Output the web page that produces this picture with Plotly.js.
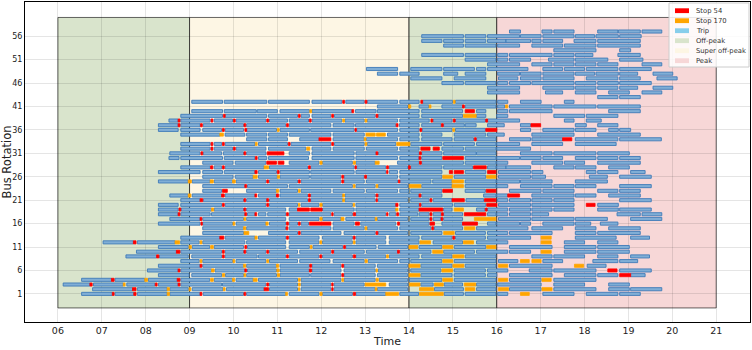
<!DOCTYPE html>
<html>
<head>
<meta charset="utf-8">
<script src="https://cdn.plot.ly/plotly-3.0.1.min.js"></script>
<style>html,body{margin:0;padding:0;background:#fff;}#chart{width:752px;height:350px;}</style>
</head>
<body>
<div id="chart"></div>
<script>
// ---------------- DATA ----------------
// Trips per bus rotation (index 0 = rotation 1), each [start hour, end hour]
const trips = [
/*1*/ [[6.54,7.24],[7.30,7.73],[7.81,8.49],[8.55,9.24],[9.31,10.23],[10.30,11.19],[11.27,11.95],[12.03,12.71],[12.79,13.47],[13.79,14.22],[14.80,15.24],[15.28,15.98],[16.02,16.25],[17.05,17.76],[18.04,18.76],[18.80,19.27]],
/*2*/ [[6.79,7.70],[7.81,8.49],[8.55,8.97],[9.06,9.76],[9.84,10.70],[10.82,11.46],[11.54,12.22],[12.29,13.23],[13.28,13.97],[14.58,15.24],[15.54,15.98],[16.29,17.01],[17.30,18.26],[18.55,19.02],[19.05,19.76]],
/*3*/ [[6.12,6.73],[6.81,7.49],[7.57,8.21],[8.29,8.74],[8.80,9.73],[9.75,10.74],[10.82,11.46],[11.54,12.22],[12.29,12.98],[13.55,13.97],[14.27,14.55],[14.80,15.22],[15.54,15.98],[16.02,17.01],[17.30,18.00],[18.55,19.02]],
/*4*/ [[6.54,7.22],[7.30,7.98],[8.06,8.72],[8.80,9.46],[9.56,9.98],[10.06,10.45],[10.57,11.46],[11.54,12.45],[12.52,13.23],[13.32,13.97],[14.01,14.75],[15.03,15.98],[16.29,17.01],[17.30,18.26]],
/*5*/ [[8.29,8.99],[9.05,9.73],[9.82,10.23],[10.30,10.98],[11.06,11.73],[11.76,12.45],[12.52,13.23],[13.28,13.97],[14.27,14.98],[15.03,15.74],[15.79,16.00],[16.29,17.26],[17.54,18.26],[18.30,18.76],[19.05,19.38]],
/*6*/ [[8.04,8.74],[8.80,9.50],[9.58,10.26],[10.32,10.98],[11.06,11.73],[11.79,12.45],[12.52,13.23],[13.30,13.97],[14.04,14.73],[15.03,15.74],[15.79,16.25],[16.74,17.26],[17.30,18.26],[18.80,19.52]],
/*7*/ [[8.29,9.24],[9.30,10.23],[10.30,10.98],[11.06,11.73],[11.79,12.45],[12.52,13.23],[13.28,13.97],[14.27,14.98],[15.28,15.98],[16.29,17.26],[18.06,18.49]],
/*8*/ [[8.80,9.22],[9.30,9.98],[10.06,10.74],[10.82,11.46],[11.51,12.20],[12.27,12.98],[13.07,13.74],[13.79,14.00],[14.04,14.75],[15.03,15.98],[16.04,16.48],[17.05,17.50],[18.19,18.76],[18.80,19.21]],
/*9*/ [[7.55,8.25],[8.31,8.97],[9.05,9.73],[9.81,10.54],[10.57,11.19],[11.27,11.95],[12.03,12.71],[12.79,13.47],[13.55,14.23],[14.29,14.98],[15.28,15.98],[16.80,17.26],[17.30,18.00],[18.30,18.76],[19.05,19.48]],
/*10*/ [[7.79,8.70],[8.80,9.73],[9.81,10.23],[10.30,10.74],[10.82,11.46],[11.51,12.22],[12.29,12.98],[13.03,13.74],[13.79,14.50],[14.79,15.49],[15.54,16.25],[16.29,16.77],[17.54,18.26],[18.30,19.02]],
/*11*/ [[8.29,8.97],[9.06,9.46],[9.56,10.23],[10.32,11.19],[11.27,11.73],[11.81,12.49],[12.56,13.25],[13.30,13.97],[14.23,14.75],[15.03,15.75],[16.29,17.26],[17.54,18.26],[18.30,19.02]],
/*12*/ [[7.03,7.72],[7.81,8.67],[8.80,9.22],[9.30,10.26],[10.30,11.19],[11.27,11.95],[12.03,12.71],[12.79,13.47],[13.55,14.23],[14.55,15.22],[15.54,16.25],[17.54,18.00],[18.30,18.76]],
/*13*/ [[8.80,9.69],[9.81,10.49],[10.57,11.19],[11.27,11.95],[12.03,12.71],[12.79,13.47],[13.55,14.23],[14.29,14.98],[15.06,15.74],[15.79,16.77],[17.79,18.72],[19.05,19.48]],
/*14*/ [[9.30,10.23],[10.80,11.46],[11.54,12.45],[12.52,13.23],[13.30,13.97],[14.04,14.75],[15.06,15.74],[15.79,16.25],[16.29,17.26],[17.79,18.26],[18.30,19.27]],
/*15*/ [[9.30,10.23],[10.30,11.19],[11.27,12.22],[12.27,12.98],[13.05,13.74],[13.79,14.50],[14.58,15.22],[15.54,16.71],[16.80,17.50],[17.79,18.26],[18.55,19.27]],
/*16*/ [[8.29,9.24],[9.30,9.98],[10.06,10.74],[10.82,11.19],[11.27,11.46],[11.54,11.71],[12.27,12.75],[12.90,13.70],[13.79,14.46],[14.75,15.22],[15.79,15.98],[16.00,16.52],[16.54,16.77],[17.05,17.76],[17.79,18.14],[18.36,18.76]],
/*17*/ [[8.55,9.24],[9.30,10.23],[10.30,11.19],[11.27,11.95],[12.03,12.45],[12.56,13.23],[13.28,13.97],[14.04,14.46],[14.55,14.73],[14.79,15.22],[16.04,16.77],[16.80,17.76],[17.79,18.52],[19.05,19.76]],
/*18*/ [[8.29,8.74],[8.80,9.47],[9.50,10.26],[10.32,10.49],[10.57,10.74],[10.78,11.19],[11.27,12.22],[12.29,12.71],[12.79,13.47],[13.55,13.70],[13.79,14.20],[14.23,14.46],[14.55,14.73],[14.79,15.22],[15.79,15.98],[16.00,16.25],[16.29,16.77],[16.80,17.18],[18.74,19.27],[19.31,19.76]],
/*19*/ [[8.29,8.74],[8.81,9.50],[9.56,10.23],[10.30,11.19],[11.27,11.46],[12.03,12.75],[12.79,13.70],[13.79,14.23],[14.79,14.98],[15.54,15.73],[15.79,16.25],[16.29,16.77],[16.80,17.26],[17.30,17.76],[18.30,18.77],[18.80,19.52]],
/*20*/ [[8.29,8.74],[8.80,9.73],[9.81,10.74],[10.82,11.46],[11.54,11.95],[12.03,12.71],[12.79,13.70],[13.79,14.23],[14.29,14.99],[15.03,15.75],[16.04,16.77],[16.80,17.76],[18.30,18.77]],
/*21*/ [[8.80,9.24],[9.31,10.23],[10.30,10.76],[10.82,11.69],[11.76,12.49],[12.54,13.23],[13.30,13.97],[14.04,14.46],[14.55,14.98],[15.30,15.70],[16.02,16.25],[16.29,16.77],[16.80,17.26],[17.30,17.76],[18.80,19.52]],
/*22*/ [[8.55,8.97],[9.06,9.73],[9.81,10.49],[10.57,10.98],[11.06,11.69],[11.76,12.49],[12.54,13.23],[13.30,14.23],[14.29,14.75],[15.70,15.98],[16.00,16.25],[16.80,17.76],[17.79,18.26],[18.55,19.27]],
/*23*/ [[9.30,9.73],[10.30,10.98],[11.06,11.46],[11.54,12.22],[12.27,12.98],[13.03,13.74],[13.79,13.99],[14.04,14.75],[15.28,15.74],[16.29,17.01],[17.05,17.76],[18.30,18.76],[18.80,19.27]],
/*24*/ [[9.30,10.26],[10.32,11.23],[11.27,12.71],[12.79,13.23],[13.30,13.97],[14.29,14.98],[15.28,15.98],[16.00,16.25],[16.54,17.26],[17.30,17.76],[17.79,18.26],[18.80,19.52]],
/*25*/ [[8.29,8.97],[9.06,9.47],[9.56,9.98],[10.06,10.74],[10.82,11.46],[11.54,12.45],[12.52,12.98],[13.03,13.74],[13.80,14.50],[14.54,14.98],[15.28,15.98],[16.00,16.52],[16.54,17.26],[17.79,18.52]],
/*26*/ [[9.30,9.99],[10.04,10.45],[10.57,11.00],[11.06,11.73],[11.76,12.45],[12.52,12.98],[13.03,13.74],[13.79,14.75],[15.03,15.75],[16.04,16.77],[16.80,17.11],[18.11,18.52],[18.80,19.52]],
/*27*/ [[8.29,9.24],[9.30,9.75],[9.79,10.49],[10.57,10.98],[11.06,11.73],[11.76,12.75],[12.79,13.47],[13.55,13.74],[13.79,14.75],[15.28,15.75],[16.04,16.77],[16.80,17.05],[18.04,18.26],[18.30,18.76],[19.05,19.38]],
/*28*/ [[8.80,9.47],[9.56,9.73],[9.81,10.70],[10.82,11.69],[11.76,12.75],[12.81,13.47],[13.55,13.97],[14.04,14.75],[14.79,15.45],[15.79,15.98],[16.00,16.21],[16.21,16.77],[17.30,17.76],[17.79,18.26],[18.55,19.02]],
/*29*/ [[9.30,9.99],[10.04,10.74],[11.27,11.95],[12.03,12.71],[12.79,13.23],[13.74,14.23],[14.29,15.24],[15.28,15.98],[16.00,16.25],[16.80,17.50],[17.54,18.00],[18.30,19.27]],
/*30*/ [[8.53,8.76],[8.80,9.75],[9.79,10.49],[10.57,10.76],[10.80,11.71],[11.79,12.75],[12.79,13.74],[13.79,14.23],[14.29,14.75],[15.28,15.98],[16.00,16.52],[16.54,17.01],[17.05,17.50],[17.79,18.26],[18.30,18.76],[18.80,19.27]],
/*31*/ [[8.55,9.24],[9.31,9.73],[9.77,10.23],[10.30,10.74],[11.27,11.73],[11.79,12.75],[12.79,13.25],[13.30,14.23],[14.29,14.75],[14.79,15.53],[15.54,15.98],[16.54,17.26],[17.30,18.26],[18.30,19.02]],
/*32*/ [[8.80,9.47],[9.56,9.98],[10.06,10.74],[10.80,11.65],[11.79,12.22],[12.27,12.98],[13.03,13.74],[13.79,14.23],[14.75,15.24],[15.28,15.98],[16.00,16.77]],
/*33*/ [[8.80,9.47],[9.56,9.73],[9.81,10.49],[10.57,11.23],[11.31,12.22],[12.30,12.98],[13.05,13.70],[14.04,14.75],[14.79,15.49],[15.54,15.98],[16.00,16.52],[16.80,17.50],[17.79,18.72]],
/*34*/ [[10.30,10.76],[10.80,11.23],[11.51,11.95],[12.27,12.98],[13.03,13.74],[13.79,14.23],[14.29,14.98],[15.03,15.47],[15.54,15.98],[16.29,16.77],[16.80,17.50],[17.79,18.76],[18.80,19.75]],
/*35*/ [[8.80,9.69],[9.81,10.26],[10.30,10.76],[10.80,11.23],[11.27,12.22],[12.27,12.98],[13.51,14.23],[14.29,14.75],[15.03,15.75],[15.79,16.17],[16.80,17.76],[18.30,19.27]],
/*36*/ [[8.29,8.74],[8.80,9.24],[9.30,9.73],[9.81,10.23],[10.30,10.98],[11.06,11.73],[11.76,12.75],[12.81,13.74],[13.79,14.23],[14.30,14.98],[15.06,15.74],[16.54,16.77],[17.05,17.76],[17.79,18.26],[18.55,18.77],[18.80,19.05]],
/*37*/ [[8.29,8.74],[8.80,9.24],[9.31,10.23],[10.30,11.19],[11.27,12.22],[12.27,12.75],[12.78,13.70],[13.78,14.23],[14.29,14.73],[14.79,15.26],[15.28,15.53],[15.79,16.17],[16.54,16.77],[17.79,18.04],[18.30,18.76]],
/*38*/ [[8.53,8.74],[8.80,9.47],[9.56,9.98],[10.06,10.74],[10.82,11.23],[11.27,11.71],[11.79,12.47],[12.54,12.98],[13.05,13.74],[13.79,14.46],[14.55,14.98],[15.06,15.74],[15.79,16.52],[17.54,17.76],[18.04,18.38]],
/*39*/ [[8.80,9.75],[9.81,10.76],[10.80,11.46],[11.54,11.73],[11.79,12.22],[12.30,13.23],[13.30,14.23],[14.29,15.22],[15.54,15.75],[16.00,16.25],[17.30,18.00],[18.04,18.76]],
/*40*/ [[9.05,9.75],[9.79,10.52],[10.54,11.00],[11.06,11.73],[11.79,12.70],[12.78,13.25],[13.28,14.23],[14.29,15.22],[15.54,15.75],[16.02,16.25],[16.29,17.26],[18.55,19.27]],
/*41*/ [[13.28,13.97],[14.23,14.45],[14.75,15.22],[15.28,15.98],[16.02,16.18],[16.29,17.26],[17.30,18.26],[18.30,19.27]],
/*42*/ [[9.05,9.75],[9.79,10.76],[10.80,11.73],[11.79,12.47],[12.56,12.98],[13.05,13.74],[13.79,14.23],[14.31,14.99],[15.06,15.98],[16.02,16.25],[16.54,17.01],[17.54,17.76]],
/*43*/ [[18.30,18.76],[18.80,19.27]],
/*44*/ [[15.79,16.52],[17.11,17.50],[17.79,18.26],[18.55,19.02],[19.31,19.76]],
/*45*/ [[15.79,16.52],[17.05,17.76],[17.79,18.26],[18.30,18.76],[18.80,19.21],[19.56,20.01]],
/*46*/ [[14.75,15.24],[15.28,15.98],[16.02,16.25],[16.29,16.77],[16.80,17.76],[17.79,18.26],[18.30,18.77],[18.80,19.52]],
/*47*/ [[14.04,14.75],[15.03,15.75],[16.04,16.48],[16.54,17.01],[17.05,17.76],[18.04,18.76],[18.80,19.27],[19.65,20.11]],
/*48*/ [[13.28,13.74],[13.79,14.23],[14.79,15.11],[15.28,15.75],[16.02,16.52],[16.54,17.01],[17.05,17.76],[17.79,18.23],[18.26,18.77],[18.80,19.21],[19.56,20.01]],
/*49*/ [[13.03,13.74],[14.04,14.75],[14.79,15.49],[15.54,15.75],[15.79,16.71],[17.05,17.50],[17.54,18.00],[18.04,18.76],[18.80,19.52]],
/*50*/ [[15.79,16.52],[16.80,17.26],[17.30,17.76],[17.79,18.26],[18.30,18.76],[19.31,19.76]],
/*51*/ [[15.28,15.98],[16.02,16.25],[16.29,16.77],[17.18,17.76],[17.79,18.53],[18.80,19.33]],
/*52*/ [[14.29,15.24],[15.28,15.98],[16.02,16.25],[16.29,17.26],[17.30,17.76],[17.79,18.19],[18.76,19.27]],
/*53*/ [[17.30,18.26],[18.80,19.05]],
/*54*/ [[14.79,15.24],[15.28,15.98],[16.02,16.52],[16.80,17.50],[17.54,18.26],[18.30,19.27]],
/*55*/ [[14.29,14.75],[14.79,15.24],[15.28,15.75],[15.79,16.21],[16.21,16.77],[16.80,17.01],[17.05,17.50],[17.76,18.26],[18.30,19.27]],
/*56*/ [[14.29,15.24],[15.28,15.75],[15.79,16.52],[16.54,17.01],[17.05,17.76],[17.79,18.23],[18.26,18.77],[18.80,19.29]],
/*57*/ [[16.29,16.54],[17.03,17.26],[17.30,17.76],[18.30,18.76],[18.77,19.27],[19.31,19.76]]
];

// Stops at stop 54: [rotation, start, end]
const stop54 = [
[1,7.24,7.28],[1,7.73,7.78],[1,9.24,9.28],[1,10.24,10.28],[1,12.73,12.78],
[2,7.70,7.78],[2,10.70,10.80],[2,12.24,12.27],
[3,6.73,6.78],[3,8.22,8.26],[3,8.74,8.78],[3,10.76,10.80],[3,12.24,12.27],
[4,7.22,7.28],[4,8.72,8.78],
[5,12.47,12.51],[5,18.80,19.05],
[6,8.74,8.78],[6,10.26,10.30],[6,11.73,11.78],[6,18.53,18.74],
[7,9.24,9.28],[7,11.74,11.78],[7,12.47,12.51],
[9,8.25,8.30],[9,9.75,9.79],[9,11.21,11.25],[9,11.97,12.01],[9,12.73,12.78],
[10,8.70,8.78],[10,9.75,9.79],[10,10.24,10.28],[10,10.76,10.80],[10,12.24,12.28],[10,13.74,13.78],
[11,10.26,10.30],[11,12.51,12.55],
[12,7.72,7.78],
[13,9.69,9.78],[13,11.21,11.25],[13,12.73,12.77],[13,15.00,15.04],
[14,11.48,11.52],[14,13.25,13.29],
[15,11.20,11.24],[15,14.52,14.56],
[16,9.26,9.29],[16,11.21,11.25],[16,11.48,11.52],[16,11.73,12.22],[16,12.78,12.87],[16,13.74,13.78],[16,14.48,14.58],[16,15.22,15.56],
[17,9.24,9.28],[17,14.48,14.52],[17,14.73,14.77],
[18,8.74,8.78],[18,10.26,10.30],[18,10.49,10.53],[18,11.21,11.25],[18,12.24,12.27],[18,12.73,12.78],[18,13.49,13.52],[18,13.72,13.76],[18,14.48,14.52],[18,14.74,14.78],[18,15.26,15.75],
[19,8.76,8.80],[19,10.24,10.28],[19,11.46,11.73],[19,11.76,12.02],[19,14.23,14.77],[19,15.74,15.78],
[20,9.75,9.79],[20,10.76,10.80],[20,13.70,13.75],[20,14.24,14.27],[20,15.77,16.00],[20,18.04,18.24],
[21,9.24,9.30],[21,10.24,10.28],[21,10.76,10.80],[21,11.71,11.75],[21,13.25,13.28],[21,14.48,14.52],[21,14.98,15.26],[21,15.72,15.98],
[22,9.73,9.79],[22,10.49,10.53],[22,10.98,11.03],[22,11.71,11.75],[22,13.25,13.29],[22,14.23,14.27],[22,16.25,16.52],
[23,9.75,9.86],[23,14.77,14.99],[23,15.76,15.98],
[24,10.26,10.30],
[25,10.76,10.80],[25,11.48,11.52],[25,12.47,12.51],[25,13.76,13.79],
[26,12.47,12.51],[26,12.99,13.03],
[27,10.49,10.54],[27,11.00,11.04],[27,13.49,13.52],[27,14.92,14.99],[27,15.03,15.24],[27,15.79,15.98],
[28,9.48,9.53],[28,9.75,9.79],[28,11.71,11.75],[28,12.77,12.80],[28,13.49,13.53],[28,13.99,14.03],[28,15.47,15.76],
[29,10.76,10.98],[29,11.02,11.15],[29,14.24,14.28],
[30,10.50,10.54],[30,14.23,14.27],[30,14.77,15.24],
[31,9.26,9.30],[31,10.24,10.28],[31,10.77,11.15],[31,13.25,13.29],[31,14.24,14.28],
[32,9.49,9.53],[32,10.00,10.04],[32,14.27,14.48],[32,14.55,14.69],
[33,9.49,9.53],[33,9.75,9.79],[33,11.25,11.29],[33,12.24,12.28],
[34,11.95,12.22],[34,15.49,15.53],[34,17.50,17.71],
[36,9.75,9.79],[36,10.26,10.30],[36,12.77,12.80],[36,14.25,14.29],[36,15.75,16.00],
[37,8.74,8.78],[37,9.25,9.29],[37,10.24,10.28],[37,11.21,11.25],[37,13.71,13.75],[37,14.74,14.78],[37,16.78,17.00],
[38,8.74,8.78],[38,9.49,9.53],[38,10.00,10.04],[38,10.76,10.80],[38,11.73,11.77],[38,14.50,14.54],[38,15.01,15.05],[38,15.75,15.79],
[39,9.77,9.81],[39,11.48,11.52],[39,12.24,12.28],[39,13.25,13.29],
[40,12.70,12.74],[40,15.28,15.49],
[41,15.22,15.26],
[42,12.49,12.53],[42,13.00,13.04],[42,14.27,14.31]
];

// Stops at stop 170: [rotation, start, end]
const stop170 = [
[1,8.49,8.54],[1,11.19,11.23],[1,11.97,12.02],[1,13.47,13.76],[1,14.24,14.78],[1,16.54,16.74],
[2,8.49,8.54],[2,8.99,9.03],[2,9.77,9.81],[2,11.48,11.51],[2,13.23,13.27],[2,14.24,14.56],[2,15.28,15.50],[2,16.04,16.27],[2,17.03,17.26],
[3,7.49,7.53],[3,11.48,11.52],[3,13.00,13.47],[3,14.01,14.25],[3,14.58,14.78],[3,15.26,15.52],
[4,7.98,8.04],[4,9.48,9.54],[4,9.98,10.03],[4,10.45,10.54],[4,11.48,11.52],[4,12.47,12.51],[4,13.25,13.30],[4,14.77,14.99],[4,16.04,16.25],[4,17.03,17.24],
[5,9.75,9.80],[5,10.24,10.28],[5,11.00,11.05],[5,14.00,14.25],
[6,9.50,9.56],[6,10.99,11.04],[6,13.25,13.28],[6,14.75,14.99],
[7,10.23,10.28],[7,10.98,11.03],[7,14.00,14.25],[7,15.00,15.25],[7,16.04,16.25],[7,17.77,17.98],
[8,9.24,9.28],[8,9.99,10.03],[8,10.76,10.80],[8,13.00,13.05],[8,14.77,15.00],[8,16.54,16.74],[8,16.80,17.01],
[9,13.49,13.53],[9,15.00,15.25],
[10,14.54,14.77],[10,17.01,17.24],
[11,8.99,9.04],[11,9.48,9.54],[11,11.75,11.79],[11,14.00,14.20],[11,14.77,15.00],[11,15.77,15.98],
[12,8.67,8.77],[12,9.24,9.28],[12,11.97,12.01],[12,12.73,12.77],[12,14.25,14.49],[12,15.24,15.47],[12,17.01,17.24],
[13,10.49,10.54],[13,17.01,17.24],
[14,10.24,10.35],[14,14.79,15.03],
[15,10.23,10.28],[15,13.00,13.04],[15,15.26,15.50],
[16,9.99,10.03],[16,10.74,10.79],
[17,10.24,10.28],[17,11.97,12.02],[17,12.45,12.52],[17,13.23,13.27],[17,15.49,15.98],
[19,9.50,9.55],[19,13.70,13.75],[19,15.03,15.24],
[20,11.48,11.51],[20,11.97,12.02],[20,12.73,12.76],
[21,12.49,12.53],
[22,8.97,9.03],[22,12.49,12.53],
[23,10.98,11.03],[23,11.48,11.52],
[24,12.73,12.77],[24,13.25,13.29],[24,14.01,14.27],[24,14.98,15.24],
[25,8.97,9.04],[25,9.47,9.54],[25,9.98,10.04],[25,14.98,15.24],
[26,10.45,10.54],[26,11.00,11.05],[26,14.77,14.99],[26,15.77,15.98],
[28,10.70,10.80],
[29,11.97,12.02],[29,12.73,12.78],[29,13.23,13.32],
[32,11.67,11.74],
[33,10.50,10.54],[33,13.00,13.04],[33,13.72,14.02],
[34,12.98,13.02],
[35,9.69,9.77],[35,13.02,13.23],[35,13.26,13.46],
[36,11.00,11.04],[36,15.00,15.04],
[38,12.49,12.53],[38,13.00,13.04],
[39,15.24,15.53],
[40,11.74,11.78],
[41,13.99,14.04],[41,14.46,14.50],[41,16.20,16.25],
[42,15.01,15.05]
];

// Tariff periods
const periodNames = ['Off-peak', 'Super off-peak', 'Off-peak', 'Peak'];
const periodStart = [6, 9, 14, 16];
const periodEnd = [9, 14, 16, 21];

// Axis ticks
const xTickVals = [6,7,8,9,10,11,12,13,14,15,16,17,18,19,20,21];
const xTickText = ['06','07','08','09','10','11','12','13','14','15','16','17','18','19','20','21'];
const yTickVals = [1,6,11,16,21,26,31,36,41,46,51,56];

// Legend labels
const legendLabels = ['Stop 54', 'Stop 170', 'Trip', 'Off-peak', 'Super off-peak', 'Peak'];

// ---------------- STYLE ----------------
const periodColor = {'Off-peak': '#d9e4cc', 'Super off-peak': '#fdf6e4', 'Peak': '#f7d7d7'};
const legendColors = ['#ff0000', '#ffa500', '#87ceeb', '#d9e4cc', '#fdf6e4', '#f7d7d7'];
const BAR_W = 0.66;

// ---------------- BUILD ----------------
const tY = [], tBase = [], tLen = [];
trips.forEach((row, i) => row.forEach(([s, e]) => { tY.push(i + 1); tBase.push(s); tLen.push(e - s); }));

function stopTrace(list, color, name) {
  return {
    type: 'bar', orientation: 'h', name: name,
    y: list.map(d => d[0]), base: list.map(d => d[1]), x: list.map(d => d[2] - d[1]),
    width: BAR_W,
    marker: {color: color, line: {color: color, width: 0.8}},
    showlegend: false, hoverinfo: 'skip'
  };
}

const data = [
  {
    type: 'bar', orientation: 'h', name: 'Trip',
    y: tY, base: tBase, x: tLen, width: BAR_W,
    marker: {color: 'rgb(128,174,214)', line: {color: 'rgb(62,122,184)', width: 0.9}},
    showlegend: false, hoverinfo: 'skip'
  },
  stopTrace(stop54, '#ff0000', 'Stop 54'),
  stopTrace(stop170, '#ffa500', 'Stop 170')
];

const shapes = periodNames.map((n, i) => ({
  type: 'rect', xref: 'x', yref: 'y', layer: 'below',
  x0: periodStart[i], x1: periodEnd[i], y0: -2, y1: 60,
  fillcolor: periodColor[n], line: {color: 'rgba(0,0,0,0.6)', width: 1}
}));

// custom legend (paper coords)
const plotL = 25, plotW = 725, plotT = 2, plotH = 320;
const px2x = p => (p - plotL) / plotW;
const px2y = p => 1 - (p - plotT) / plotH;
shapes.push({type: 'rect', xref: 'paper', yref: 'paper', layer: 'above',
  x0: px2x(669), x1: px2x(749), y0: px2y(67), y1: px2y(3),
  fillcolor: 'rgba(255,255,255,0.85)', line: {color: '#cccccc', width: 1}});
const annotations = [];
legendLabels.forEach((lab, i) => {
  const yc = 10.7 + i * 10;
  shapes.push({type: 'rect', xref: 'paper', yref: 'paper', layer: 'above',
    x0: px2x(675), x1: px2x(689), y0: px2y(yc + 2.4), y1: px2y(yc - 2.4),
    fillcolor: legendColors[i], line: {width: 0}});
  annotations.push({xref: 'paper', yref: 'paper', x: px2x(694), y: px2y(yc),
    xanchor: 'left', yanchor: 'middle', text: lab, showarrow: false,
    font: {family: 'DejaVu Sans', size: 6.8, color: '#333'}});
});

const layout = {
  width: 752, height: 350,
  margin: {l: plotL, r: 752 - plotL - plotW, t: plotT, b: 350 - plotT - plotH, pad: 0},
  paper_bgcolor: '#ffffff', plot_bgcolor: '#ffffff',
  barmode: 'overlay', bargap: 0,
  showlegend: false,
  font: {family: 'DejaVu Sans', color: '#222'},
  xaxis: {
    range: [5.25, 21.77], tickvals: xTickVals, ticktext: xTickText,
    showgrid: true, gridcolor: 'rgba(0,0,0,0.1)', gridwidth: 1,
    showline: true, mirror: true, linecolor: '#000', linewidth: 1,
    ticks: '', zeroline: false, tickfont: {size: 9.5, color: '#222'},
    title: {text: 'Time', font: {size: 11, color: '#222'}, standoff: 1},
    automargin: false
  },
  yaxis: {
    range: [-5, 63.3], tickvals: yTickVals,
    showgrid: true, gridcolor: 'rgba(0,0,0,0.1)', gridwidth: 1,
    showline: true, mirror: true, linecolor: '#000', linewidth: 1,
    ticks: '', zeroline: false, tickfont: {size: 8, color: '#222'},
    title: {text: 'Bus Rotation', font: {size: 11.5, color: '#222'}, standoff: 2},
    automargin: false
  },
  shapes: shapes,
  annotations: annotations
};

Plotly.newPlot('chart', data, layout, {staticPlot: true, displayModeBar: false});
</script>
</body>
</html>
